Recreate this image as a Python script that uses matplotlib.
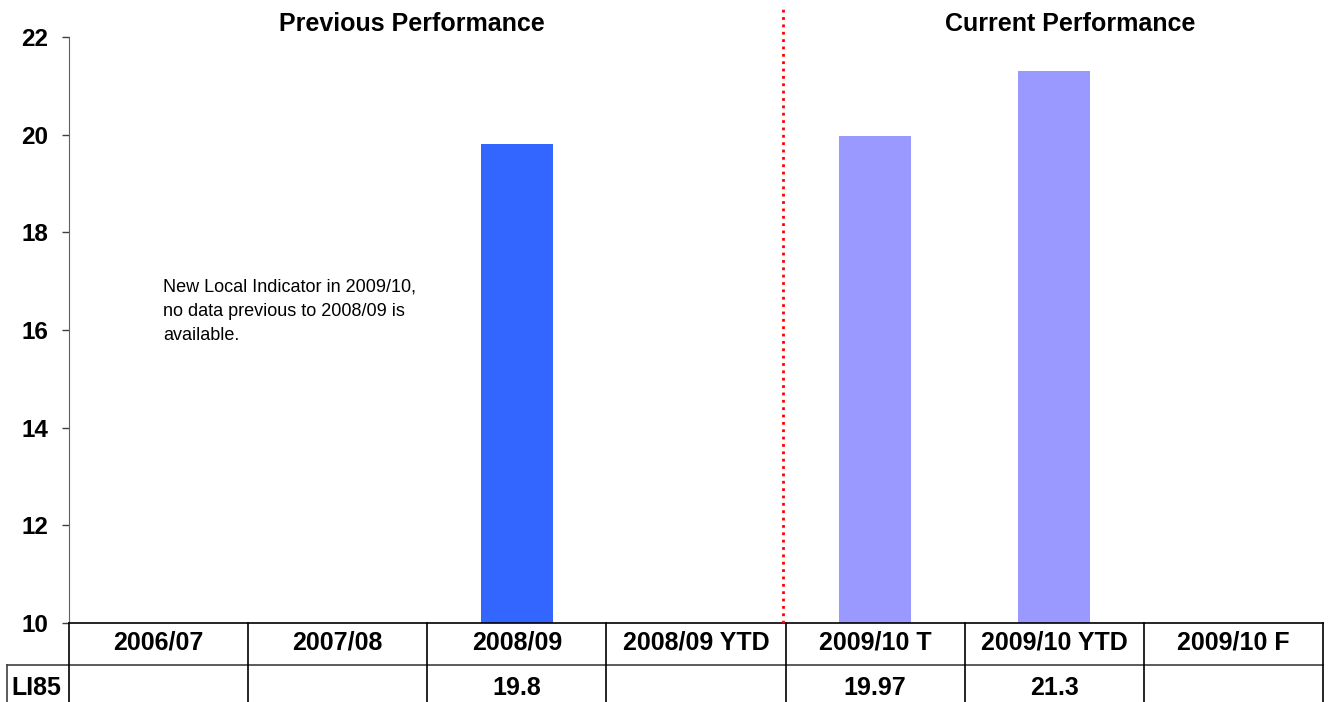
import matplotlib
matplotlib.use("Agg")
import matplotlib.pyplot as plt
import matplotlib.transforms as mtransforms
import numpy as np

plt.rcParams['font.family'] = ['Liberation Sans', 'DejaVu Sans']

categories = ["2006/07", "2007/08", "2008/09", "2008/09 YTD",
              "2009/10 T", "2009/10 YTD", "2009/10 F"]
values = [np.nan, np.nan, 19.8, np.nan, 19.97, 21.3, np.nan]
table_text = ["", "", "19.8", "", "19.97", "21.3", ""]
row_label = "LI85"
bar_colors = ["#3366FF", "#3366FF", "#3366FF", "#3366FF",
              "#9999FF", "#9999FF", "#9999FF"]
yticks = [10, 12, 14, 16, 18, 20, 22]
section_titles = ["Previous Performance", "Current Performance"]
note = "New Local Indicator in 2009/10,\nno data previous to 2008/09 is\navailable."

W, H = 1330, 702
fig = plt.figure(figsize=(W / 100, H / 100), dpi=100)
L, R, T, B = 69, 1323, 37, 623
ax = fig.add_axes([L / W, (H - B) / H, (R - L) / W, (B - T) / H])
cw = (R - L) / len(categories)

x = np.arange(len(categories))
ax.bar(x, np.nan_to_num(values, nan=0), width=0.4, color=bar_colors, zorder=2)
ax.set_xlim(-0.5, len(categories) - 0.5)
ax.set_ylim(10, 22)
ax.set_yticks(yticks)
ax.set_yticklabels([str(v) for v in yticks], fontsize=17.5, fontweight='bold')
ax.tick_params(axis='y', length=5, width=1, pad=10, color='#404040')
ax.set_xticks([])
for s in ['top', 'right']:
    ax.spines[s].set_visible(False)
ax.spines['left'].set_color('#606060')
ax.spines['bottom'].set_color('black')
ax.spines['bottom'].set_linewidth(1.2)

trans = mtransforms.blended_transform_factory(ax.transData, ax.transAxes)
axh = B - T
y_head = (B - 665) / axh
y_bot = (B - 705) / axh
x_left = -0.5 + (7 - L) / cw

lkw = dict(transform=trans, clip_on=False, color='black', lw=1.2)
ax.plot([x_left, len(categories) - 0.5], [y_head, y_head], **{**lkw, 'color': '#404040'})
for i in range(len(categories) + 1):
    xb = i - 0.5
    ax.plot([xb, xb], [0, y_bot], **lkw)
ax.plot([x_left, x_left], [y_head, y_bot], **{**lkw, 'color': '#404040'})

for i, c in enumerate(categories):
    ax.text(i, (B - 643) / axh, c, transform=trans, ha='center', va='center',
            fontsize=18, fontweight='bold')
    if table_text[i]:
        ax.text(i, (B - 688) / axh, table_text[i], transform=trans, ha='center',
                va='center', fontsize=18, fontweight='bold')
ax.text(-0.5 + (11 - L) / cw, (B - 688) / axh, row_label, transform=trans,
        ha='left', va='center', fontsize=18, fontweight='bold')

# divider
xd = 3.5 - 3 / cw
ax.plot([xd, xd], [0, (B - 8) / axh], transform=trans, clip_on=False,
        color='#FF0000', lw=2, linestyle=':', zorder=3)

# section titles
ax.text(-0.5 + (412 - L) / cw, (B - 24) / axh, section_titles[0], transform=trans,
        ha='center', va='center', fontsize=18, fontweight='bold')
ax.text(-0.5 + (1070 - L) / cw, (B - 24) / axh, section_titles[1], transform=trans,
        ha='center', va='center', fontsize=18, fontweight='bold')

ax.text(-0.5 + (163 - L) / cw, (B - 279) / axh, note,
        transform=trans, ha='left', va='top', fontsize=13, linespacing=1.55)

fig.savefig("out.png", dpi=100)
